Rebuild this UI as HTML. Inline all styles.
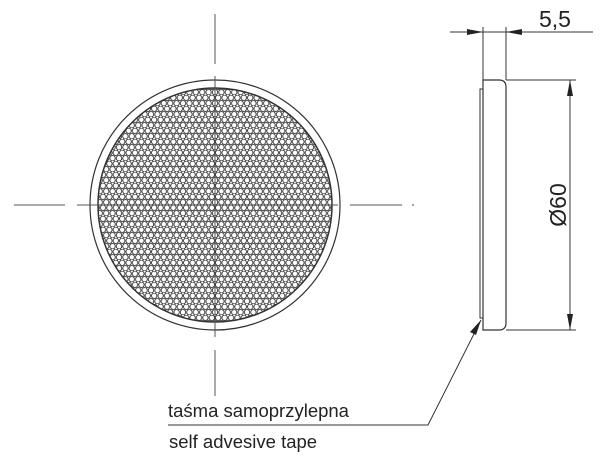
<!DOCTYPE html>
<html><head><meta charset="utf-8"><style>
html,body{margin:0;padding:0;background:#fff;}
svg{display:block;}
text{font-family:"Liberation Sans","DejaVu Sans",sans-serif;fill:#222;}
</style></head><body>
<svg width="610" height="462" viewBox="0 0 610 462" xmlns="http://www.w3.org/2000/svg">
<defs>
<pattern id="hex" width="6.4" height="11" patternUnits="userSpaceOnUse" x="215" y="205">
<g fill="none" stroke="#333" stroke-width="0.9">
<circle cx="3.2" cy="2.75" r="2.7"/>
<circle cx="0" cy="8.25" r="2.7"/>
<circle cx="6.4" cy="8.25" r="2.7"/>
</g>
</pattern>
<clipPath id="c"><circle cx="215" cy="205" r="117"/></clipPath>
</defs>
<g stroke="#333" fill="none">
<circle cx="215" cy="205" r="125" stroke-width="1.2"/>
<rect x="90" y="80" width="250" height="250" fill="url(#hex)" clip-path="url(#c)" stroke="none"/>
<circle cx="215" cy="205" r="117" stroke-width="1.5"/>
<g stroke="#555" stroke-width="1">
<line x1="215" y1="14" x2="215" y2="64"/>
<line x1="215" y1="76" x2="215" y2="337"/>
<line x1="215" y1="350" x2="215" y2="396"/>
<line x1="14" y1="205" x2="65" y2="205"/>
<line x1="77" y1="205" x2="338" y2="205"/>
<line x1="350" y1="205" x2="402" y2="205"/>
<line x1="412" y1="205" x2="414" y2="205"/>
</g>
<path d="M483 80 H499 Q506 80 506 87 V323 Q506 330 499 330 H483 Z" stroke-width="1.2"/>
<path d="M483 89 H480 V318 H483" stroke-width="1"/>
<line x1="506" y1="80" x2="576" y2="80" stroke-width="1"/>
<line x1="506" y1="330" x2="576" y2="330" stroke-width="1"/>
<line x1="570" y1="80" x2="570" y2="330" stroke-width="1"/>
<line x1="483" y1="27" x2="483" y2="80" stroke-width="1"/>
<line x1="506" y1="27" x2="506" y2="80" stroke-width="1"/>
<line x1="450" y1="32" x2="593" y2="32" stroke-width="1"/>
<polyline points="481,320 428,425 168,425" stroke-width="1"/>
</g>
<g fill="#222">
<polygon points="483,32 467,29 467,35"/>
<polygon points="506,32 522,29 522,35"/>
<polygon points="570,80 567,96 573,96"/>
<polygon points="570,330 567,314 573,314"/>
<polygon points="481,320 470,332 476,335"/>
</g>
<text x="539" y="27" font-size="23">5,5</text>
<text transform="translate(566,205) rotate(-90)" text-anchor="middle" font-size="23">Ø60</text>
<text x="168" y="417" font-size="18.5">taśma samoprzylepna</text>
<text x="169" y="448" font-size="18.5">self advesive tape</text>
</svg>
</body></html>
